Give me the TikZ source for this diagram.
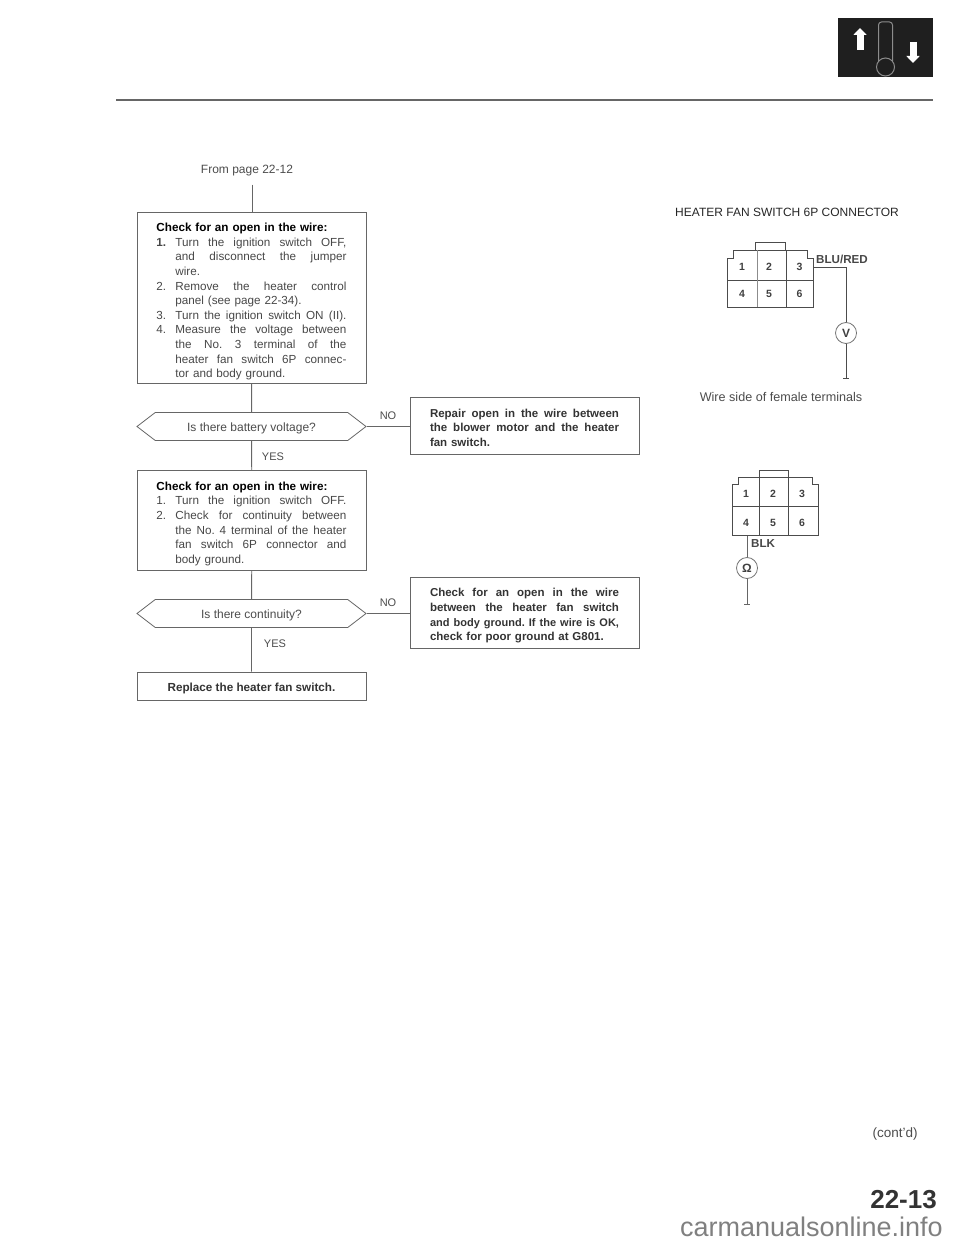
\documentclass[tikz,border=0pt]{standalone}
\usepackage{fontspec}
\setmainfont{Liberation Sans}
\usetikzlibrary{shapes.symbols,arrows.meta,calc}
\newcommand{\fitline}[2]{\makebox[#1][s]{\frenchspacing\spaceskip=0pt\xspaceskip=0pt #2}}
\newcommand{\stepline}[2]{\makebox[19pt][l]{#1}\fitline{171pt}{#2}}
\newcommand{\stepend}[1]{\hspace*{19pt}#1}
\newcommand{\toppad}[1]{\rule{0pt}{#1}}
\begin{document}
\begin{tikzpicture}[x=1pt,y=-1pt,
  box/.style={draw=black!60, line width=0.9pt, align=left, font=\fontsize{11.7}{14.6}\selectfont, text=black!72, inner sep=0pt},
  fixbox/.style={box, minimum width=229pt, anchor=north west, text width=191pt},
  boldbox/.style={box, minimum width=229pt, text width=189pt, font=\fontsize{11.5}{14.6}\bfseries\selectfont, text=black!80},
  ask/.style={signal, signal to=west and east, signal pointer angle=75, draw=black!60, line width=0.8pt, minimum width=229pt, minimum height=28pt, inner sep=0pt, text height=10pt, text depth=0pt, font=\fontsize{12}{14}\selectfont, text=black!70},
  label/.style={font=\fontsize{11}{13}\selectfont, text=black!70, inner sep=0pt},
  link/.style={draw=black!60, line width=0.9pt},
  term/.style={font=\fontsize{10.5}{12}\bfseries\selectfont, text=black!75, inner sep=0pt, minimum width=28pt, minimum height=26pt},
  meter/.style={circle, draw=black!55, line width=0.8pt, minimum size=21pt, inner sep=0pt, font=\fontsize{12}{14}\bfseries\selectfont, text=black!75},
  shell/.style={draw=black!70, line width=0.9pt},
  wirename/.style={font=\fontsize{11.6}{13}\bfseries\selectfont, text=black!72, inner sep=0pt, anchor=west},
]
\useasboundingbox (0,0) rectangle (960,1246);

% === page head ===
\node[fill=black!88, minimum width=95pt, minimum height=59pt, inner sep=0pt] (icon) at (885.5,47.5) {};
\node[draw=black!45, line width=1pt, rounded corners=3pt, minimum width=14pt, minimum height=42pt, inner sep=0pt] (stem) at (885.5,43) {};
\node[circle, draw=black!45, fill=black!88, line width=1pt, minimum size=18pt, inner sep=0pt] (bulb) at (885.5,67) {};
\draw[-{Triangle[length=7pt,width=13pt]}, white, line width=7pt] (860,50) -- (860,28);
\draw[-{Triangle[length=7pt,width=13pt]}, white, line width=7pt] (913,42) -- (913,63);
\coordinate (ruleleft) at (116,100);
\coordinate (ruleright) at (933,100);
\draw[black!60, line width=1.3pt] (ruleleft) -- (ruleright);

% === flow ===
\node[label, font=\fontsize{12}{14}\selectfont] (from) at (247,171) {From page 22-12};

\node[fixbox, minimum height=171pt] (check1) at (137,212) {%
\toppad{16pt}\textbf{\color{black}Check for an open in the wire:}\\
\stepline{\textbf{1.}}{Turn the ignition switch OFF,}\\
\stepend{\fitline{171pt}{and disconnect the jumper}}\\
\stepend{wire.}\\
\stepline{2.}{Remove the heater control}\\
\stepend{panel (see page 22-34).}\\
\stepline{3.}{Turn the ignition switch ON (II).}\\
\stepline{4.}{Measure the voltage between}\\
\stepend{\fitline{171pt}{the No. 3 terminal of the}}\\
\stepend{\fitline{171pt}{heater fan switch 6P connec-}}\\
\stepend{tor and body ground.}};

\node[ask] (ask1) at (251.5,426.5) {Is there battery voltage?};

\node[fixbox, minimum height=100pt] (check2) at (137,470) {%
\toppad{15pt}\textbf{\color{black}Check for an open in the wire:}\\
\stepline{1.}{Turn the ignition switch OFF.}\\
\stepline{2.}{Check for continuity between}\\
\stepend{\fitline{171pt}{the No. 4 terminal of the heater}}\\
\stepend{\fitline{171pt}{fan switch 6P connector and}}\\
\stepend{body ground.}};

\node[ask] (ask2) at (251.5,613.5) {Is there continuity?};

\node[box, minimum width=229pt, minimum height=28pt, align=center, font=\fontsize{11.7}{14.6}\bfseries\selectfont, text=black!80] (replace) at (251.5,686) {\toppad{13pt}Replace the heater fan switch.};

\node[boldbox, minimum height=57pt] (repair) at (524.5,425.5) {%
\toppad{13pt}\fitline{189pt}{Repair open in the wire between}\\
\fitline{189pt}{the blower motor and the heater}\\
fan switch.};

\node[boldbox, minimum height=71pt] (open) at (524.5,612.5) {%
\toppad{15pt}\fitline{189pt}{Check for an open in the wire}\\
\fitline{189pt}{between the heater fan switch}\\
\fitline{189pt}{\fontsize{11}{14.6}\selectfont and body ground. If the wire is OK,}\\
check for poor ground at G801.};

\draw[link] (from.south -| check1.north) ++(0,8) -- (check1.north);
\draw[link] (check1) -- (ask1);
\draw[link] (ask1) -- (check2);
\draw[link] (check2) -- (ask2);
\draw[link] (ask2) -- (replace);
\draw[link] (ask1.east) -- (ask1.east -| repair.west);
\draw[link] (ask2.east) -- (ask2.east -| open.west);

\node[label] (yes1) at (273,457) {YES};
\node[label] (yes2) at (275,644) {YES};
\node[label] (no1) at (388,416) {NO};
\node[label] (no2) at (388,603) {NO};

% === voltage connector ===
\node[inner sep=0pt, font=\fontsize{12}{14}\selectfont, text=black!85] (title) at (787,212) {HEATER FAN SWITCH 6P CONNECTOR};
\draw[shell] (727,307) -- (727,258) -- (733,258) -- (733,250) -- (807,250) -- (807,258) -- (813,258) -- (813,307) -- cycle;
\draw[shell] (755,250) -- (755,242) -- (785,242) -- (785,250);
\draw[shell] (727,280) -- (813,280);
\draw[shell, draw=black!45] (757,250) -- (757,307);
\draw[shell] (786,250) -- (786,307);
\node[term] (a1) at (742,267) {1};
\node[term] (a2) at (769,267) {2};
\node[term, minimum width=27pt] (a3) at (799.5,267) {3};
\node[term] (a4) at (742,294) {4};
\node[term] (a5) at (769,294) {5};
\node[term, minimum width=27pt] (a6) at (799.5,294) {6};
\node[wirename] (blu) at (816,259) {BLU/RED};
\node[meter] (volt) at (846,333) {V};
\coordinate (gnd1) at (846,378);
\draw[link, draw=black!70] (a3.east) -| (volt.north);
\draw[link, draw=black!70] (volt.south) -- (gnd1);
\draw[link, draw=black!70] ($(gnd1)+(-3,0)$) -- ($(gnd1)+(3,0)$);
\node[label, font=\fontsize{12.6}{14}\selectfont] (side) at (781,397) {Wire side of female terminals};

% === ground connector ===
\draw[shell] (732,535) -- (732,484) -- (738,484) -- (738,477) -- (812,477) -- (812,484) -- (818,484) -- (818,535) -- cycle;
\draw[shell] (759,477) -- (759,470) -- (788,470) -- (788,477);
\draw[shell] (732,506) -- (818,506);
\draw[shell] (759,477) -- (759,535);
\draw[shell] (788,477) -- (788,535);
\node[term] (b1) at (746,494) {1};
\node[term] (b2) at (773,494) {2};
\node[term] (b3) at (802,494) {3};
\node[term] (b4) at (746,523) {4};
\node[term] (b5) at (773,523) {5};
\node[term] (b6) at (802,523) {6};
\node[wirename] (blk) at (751,544) {BLK};
\node[meter] (ohm) at (747,568) {Ω};
\coordinate (gnd2) at (747,604);
\draw[link] (b4.south -| ohm.north) -- (ohm.north);
\draw[link] (ohm.south) -- (gnd2);
\draw[link] ($(gnd2)+(-3,0)$) -- ($(gnd2)+(3,0)$);

% === page foot ===
\node[label, font=\fontsize{13.5}{15}\selectfont] (cont) at (895,1134) {(cont'd)};
\node[font=\fontsize{26}{30}\bfseries\selectfont, text=black!80, inner sep=0pt, anchor=east] (page) at (937,1200) {22-13};
\node[font=\fontsize{27}{30}\selectfont, text=black!50, inner sep=0pt, anchor=base east] (mark) at (943,1236) {carmanualsonline.info};
\end{tikzpicture}
\end{document}
